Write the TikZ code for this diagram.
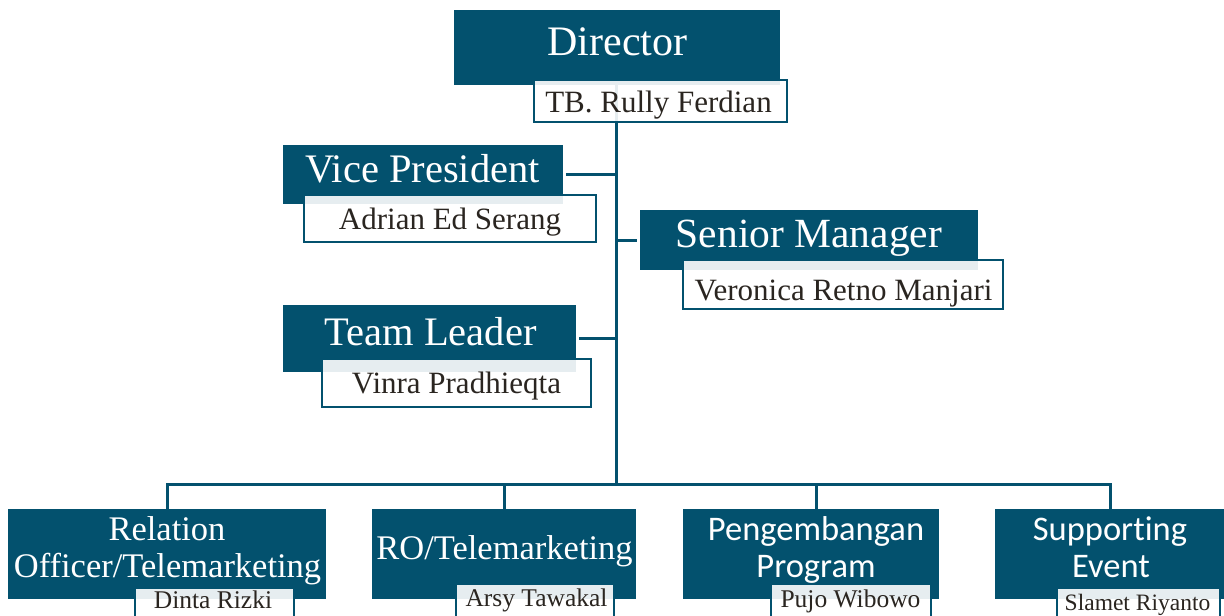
\documentclass[tikz,border=0pt]{standalone}
\usepackage{fontspec}
\setmainfont{Liberation Serif}
\newfontfamily\calib[Ligatures={NoCommon}]{Carlito}
\definecolor{teal0}{RGB}{3,81,110}
\definecolor{nametxt}{RGB}{42,37,32}
\pgfdeclarelayer{background}
\pgfsetlayers{background,main}
\begin{document}
\begin{tikzpicture}[x=1pt,y=-1pt,
  tbox/.style={fill=teal0, draw=none, inner sep=0pt},
  nbox/.style={fill=white, fill opacity=0.9, draw=teal0, draw opacity=1, text opacity=1, line width=2.5pt, inner sep=0pt},
  ttl/.style={anchor=base, text=white, inner sep=0pt, font=\fontsize{41}{41}\selectfont},
  btl/.style={anchor=base, text=white, inner sep=0pt, font=\fontsize{34.5}{34.5}\selectfont},
  bsans/.style={anchor=base, text=white, inner sep=0pt, font=\calib\fontsize{34.5}{34.5}\selectfont},
  nm/.style={anchor=base, text=nametxt, inner sep=0pt, font=\fontsize{31}{31}\selectfont},
  bnm/.style={anchor=base, text=nametxt, inner sep=0pt, font=\fontsize{25.5}{25.5}\selectfont},
  conn/.style={draw=teal0, line width=3pt}]
\useasboundingbox (0,0) rectangle (1224,616);

% title boxes
\node[tbox, minimum width=326pt, minimum height=75pt] (dir) at (617,47.5) {};
\node[tbox, minimum width=280pt, minimum height=59pt] (vp) at (423,174.5) {};
\node[tbox, minimum width=293pt, minimum height=67pt] (tl) at (429.5,338.5) {};
\node[tbox, minimum width=338pt, minimum height=60pt] (sm) at (809,240) {};
\node[tbox, minimum width=318pt, minimum height=90pt] (rel) at (167,554) {};
\node[tbox, minimum width=264pt, minimum height=90pt] (ro) at (504,554) {};
\node[tbox, minimum width=256pt, minimum height=90pt] (peng) at (811,554) {};
\node[tbox, minimum width=231pt, minimum height=90pt] (sup) at (1110.5,554) {};

% title texts
\node[ttl, font=\fontsize{42}{42}\selectfont] (dirT) at (617.5,55) {Director};
\node[ttl, font=\fontsize{40.5}{40.5}\selectfont] (vpT) at (422.5,182) {Vice President};
\node[ttl, font=\fontsize{40.5}{40.5}\selectfont] (tlT) at (430.5,345) {Team Leader};
\node[ttl, font=\fontsize{41.5}{41.5}\selectfont] (smT) at (809,247) {Senior Manager};
\node[btl] (relT1) at (167,540) {Relation};
\node[btl] (relT2) at (167.5,577) {Officer/Telemarketing};
\node[btl] (roT) at (504.5,559) {RO/Telemarketing};
\node[bsans] (pengT1) at (816,540) {Pengembangan};
\node[bsans] (pengT2) at (816,577) {Program};
\node[bsans] (supT1) at (1110,540) {Supporting};
\node[bsans] (supT2) at (1111,577) {Event};

% name boxes
\node[nbox, minimum width=253pt, minimum height=42pt] (tbN) at (660.5,101) {};
\node[nbox, minimum width=292pt, minimum height=47pt] (vpN) at (450,218.5) {};
\node[nbox, minimum width=269pt, minimum height=48pt] (tlN) at (456.5,383) {};
\node[nbox, minimum width=320pt, minimum height=49pt] (smN) at (843,284.5) {};
\node[nbox, minimum width=159pt, minimum height=52pt] (relN) at (214.5,614) {};
\node[nbox, minimum width=158pt, minimum height=52pt] (roN) at (535,610) {};
\node[nbox, minimum width=160pt, minimum height=52pt] (pengN) at (851,610) {};
\node[nbox, minimum width=163pt, minimum height=52pt] (supN) at (1138.5,614) {};

% name texts
\node[nm] (tbT) at (658.5,112) {TB. Rully Ferdian};
\node[nm] (vpNT) at (450,229) {Adrian Ed Serang};
\node[nm] (tlNT) at (456.5,393) {Vinra Pradhieqta};
\node[nm] (smNT) at (843.5,300) {Veronica Retno Manjari};
\node[bnm] (relNT) at (213,608) {Dinta Rizki};
\node[bnm] (roNT) at (536.5,606) {Arsy Tawakal};
\node[bnm] (pengNT) at (850.5,607) {Pujo Wibowo};
\node[bnm, font=\fontsize{23.5}{23.5}\selectfont] (supNT) at (1137.5,610) {Slamet Riyanto};

% connectors
\coordinate (hub) at (616,484);
\begin{pgfonlayer}{background}
\draw[conn] (dir.south -| hub) -- (hub);
\draw[conn] ([xshift=3pt]vp.east) -- (vp.east -| hub);
\draw[conn] ([xshift=3pt]tl.east) -- (tl.east -| hub);
\draw[conn] ([xshift=-3pt]sm.west) -- (sm.west -| hub);
\draw[conn] ([yshift=-4pt]rel.north) |- (hub) -| ([yshift=-4pt]sup.north);
\draw[conn] ([yshift=-4pt]ro.north) -- (ro.north |- hub);
\draw[conn] ([xshift=5pt,yshift=-4pt]peng.north) -- ([xshift=5pt]peng.north |- hub);
\end{pgfonlayer}
\end{tikzpicture}
\end{document}
